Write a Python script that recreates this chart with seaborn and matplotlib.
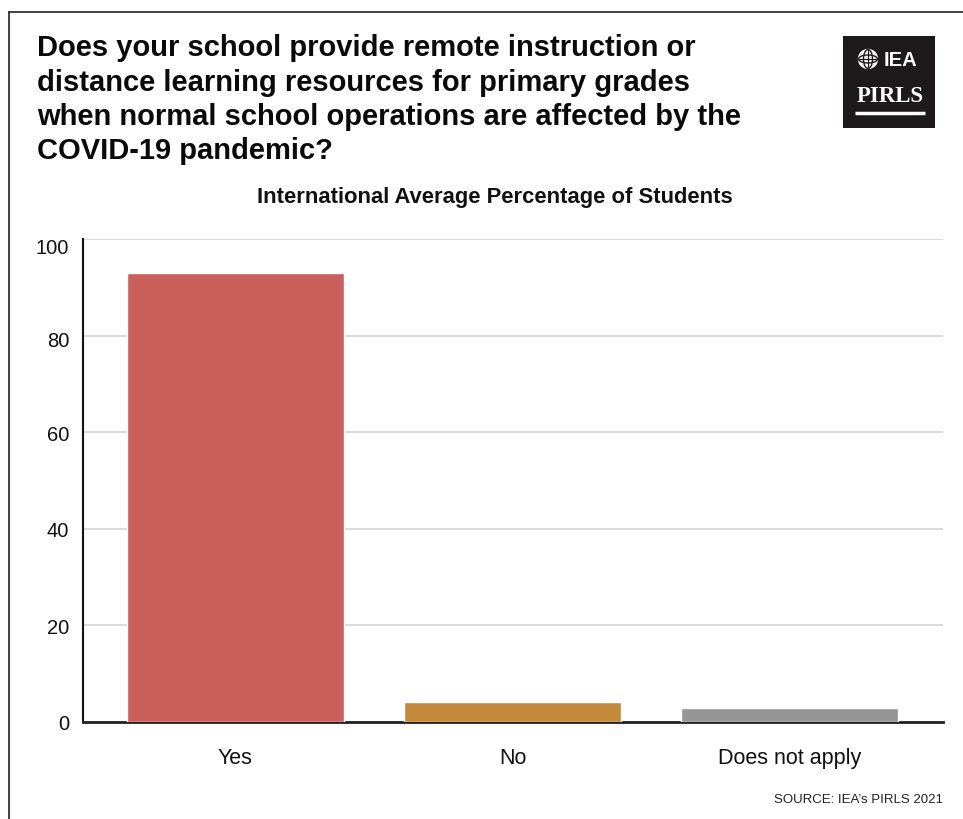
import matplotlib
matplotlib.use("Agg")
import matplotlib.pyplot as plt
import matplotlib.transforms as mtransforms
import seaborn as sns
import pandas as pd
from matplotlib.patches import Rectangle, Circle, Ellipse
from matplotlib.lines import Line2D

categories = ["Yes", "No", "Does not apply"]
values = [93.0, 4.1, 2.9]
colors = ["#CB5F5C", "#C5893C", "#959595"]
yticks = [0, 20, 40, 60, 80, 100]
title_lines = [
    "Does your school provide remote instruction or",
    "distance learning resources for primary grades",
    "when normal school operations are affected by the",
    "COVID-19 pandemic?",
]
subtitle = "International Average Percentage of Students"
source = "SOURCE: IEA\u2019s PIRLS 2021"

sns.set_theme(style="white")
plt.rcParams["font.family"] = ["Liberation Sans", "DejaVu Sans"]

W, H = 963, 820
fig = plt.figure(figsize=(W / 100, H / 100), dpi=100)

def fx(px):
    return px / W

def fy(py):
    return 1 - py / H

ax = fig.add_axes([fx(83), fy(723), fx(943) - fx(83), fy(240) - fy(723)])
df = pd.DataFrame({"cat": categories, "val": values})
sns.barplot(data=df, x="cat", y="val", hue="cat", palette=colors, legend=False,
            width=0.78, ax=ax, saturation=1, zorder=3)
ax.set_xlim(-0.5505, 2.554)
ax.set_ylim(0, 100)
ax.set_yticks(yticks)
ax.set_yticklabels([str(t) for t in yticks], fontsize=14.5, color="#111111")
ax.tick_params(axis="y", length=0, pad=10)
ax.tick_params(axis="x", length=0, pad=18, labelsize=15.5, labelcolor="#111111")
# small downward shifts of the upper tick labels as in the reference
shifts = {100: -6, 80: -3}
for t, lab in zip(yticks, ax.get_yticklabels()):
    if t in shifts:
        lab.set_transform(lab.get_transform() +
                          mtransforms.ScaledTranslation(0, shifts[t] / 100, fig.dpi_scale_trans))
ax.set_xlabel("")
ax.set_ylabel("")
ax.yaxis.grid(True, color="#d4d4d4", linewidth=1.2, zorder=0)
ax.xaxis.grid(False)
for s in ["top", "right"]:
    ax.spines[s].set_visible(False)
ax.spines["left"].set_color("#111111")
ax.spines["left"].set_linewidth(1.5)
ax.spines["bottom"].set_color("#222222")
ax.spines["bottom"].set_linewidth(2)

# Frame lines (top and left)
fig.add_artist(Line2D([fx(8.5), 1.0], [fy(12.5), fy(12.5)], color="#222222", lw=1.2))
fig.add_artist(Line2D([fx(8.5), fx(8.5)], [fy(12.5), 0.0], color="#222222", lw=1.2))

# Title
tys = [48, 83, 117, 151]
for line, ty in zip(title_lines, tys):
    fig.text(fx(37), fy(ty), line, fontsize=21, fontweight="bold", color="#0a0a0a",
             ha="left", va="center")

fig.text(fx(495), fy(198), subtitle, fontsize=15.8, fontweight="bold", color="#111111",
         ha="center", va="center")

fig.text(fx(943), fy(800), source, fontsize=9.5, color="#222222", ha="right", va="center")

# Logo
lax = fig.add_axes([fx(843), fy(129), fx(935) - fx(843), fy(37) - fy(129)])
lax.set_xlim(0, 92)
lax.set_ylim(0, 92)
lax.set_axis_off()
lax.add_patch(Rectangle((0, 0), 92, 92, color="#1c1a1a"))
gx, gy, r = 25, 69, 9.5
lax.add_patch(Circle((gx, gy), r, color="white"))
lax.add_patch(Ellipse((gx, gy), 9, 19, fill=False, ec="#1c1a1a", lw=1.0))
lax.add_patch(Ellipse((gx, gy), 19, 8, fill=False, ec="#1c1a1a", lw=1.0))
lax.plot([gx - r, gx + r], [gy, gy], color="#1c1a1a", lw=0.9)
lax.plot([gx, gx], [gy - r, gy + r], color="#1c1a1a", lw=0.9)
lax.text(57, 68, "IEA", color="white", fontsize=14.5, fontweight="bold",
         ha="center", va="center")
lax.text(47, 33, "PIRLS", color="white", fontsize=16.5, family="Liberation Serif",
         fontweight="bold", ha="center", va="center")
lax.plot([12, 82], [15, 15], color="white", lw=2.5, solid_capstyle="butt")

fig.savefig("out.png", dpi=100)
